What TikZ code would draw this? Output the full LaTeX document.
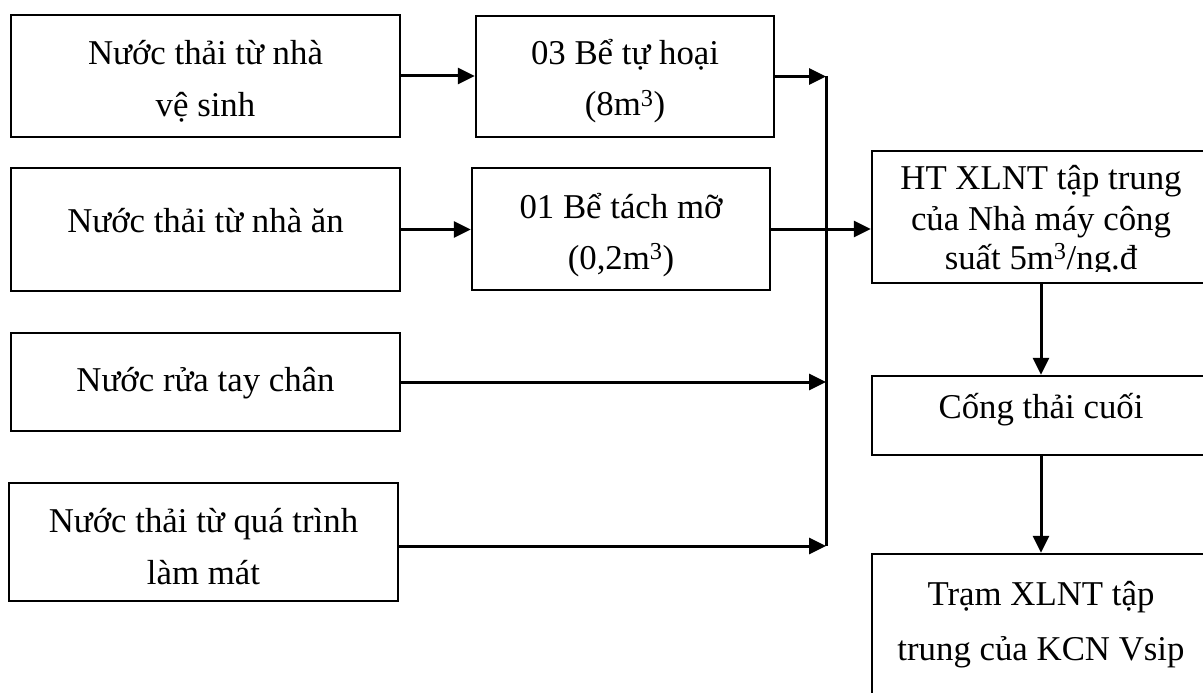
\documentclass[tikz,border=0pt]{standalone}
\usepackage{fontspec}
\setmainfont{Liberation Serif}
\usetikzlibrary{arrows.meta}
\begin{document}
\begin{tikzpicture}[x=1pt,y=-1pt,
  box/.style={draw, rectangle, line width=2.4pt, inner sep=0pt},
  txt/.style={anchor=base, inner sep=0pt, font=\fontsize{34.8}{40}\selectfont},
  flow/.style={line width=3pt, -{Triangle[length=17pt,width=16pt]}},
  bus/.style={line width=3pt}]
\useasboundingbox (0,0) rectangle (1203,693);
\clip (0,0) rectangle (1203,693);

% source boxes
\node[box, minimum width=389pt, minimum height=122pt] (A) at (205.5,76) {};
\node[box, minimum width=389pt, minimum height=123pt] (C) at (205.5,229.5) {};
\node[box, minimum width=389pt, minimum height=98pt]  (E) at (205.5,382) {};
\node[box, minimum width=389pt, minimum height=118pt] (F) at (203.5,542) {};

% pre-treatment tanks
\node[box, minimum width=298pt, minimum height=121pt] (B) at (625,76.5) {};
\node[box, minimum width=298pt, minimum height=122pt] (D) at (621,229) {};

% treatment chain
\node[box, minimum width=338pt, minimum height=132pt] (G) at (1041,217) {};
\node[box, minimum width=338pt, minimum height=79pt]  (H) at (1041,415.5) {};
\node[box, minimum width=338pt, minimum height=186pt] (I) at (1041,647) {};

% labels
\node[txt] (tA1) at (205.5,65)  {Nước thải từ nhà};
\node[txt] (tA2) at (205.5,117) {vệ sinh};
\node[txt] (tC)  at (205.5,232) {Nước thải từ nhà ăn};
\node[txt] (tE)  at (205.5,391) {Nước rửa tay chân};
\node[txt] (tF1) at (203.5,532) {Nước thải từ quá trình};
\node[txt] (tF2) at (203.5,584) {làm mát};
\node[txt] (tB1) at (625,65)  {03 Bể tự hoại};
\node[txt] (tB2) at (625,116) {(8m\textsuperscript{3})};
\node[txt] (tD1) at (621,218) {01 Bể tách mỡ};
\node[txt] (tD2) at (621,269) {(0,2m\textsuperscript{3})};
\node[txt] (tG1) at (1041,189) {HT XLNT tập trung};
\node[txt] (tG2) at (1041,230) {của Nhà máy công};
\begin{scope}
  \clip (860,240) rectangle (1220,271);
  \node[txt] (tG3) at (1041,269) {suất 5m\textsuperscript{3}/ng.đ};
\end{scope}
\node[txt] (tH)  at (1041,418) {Cống thải cuối};
\node[txt] (tI1) at (1041,605) {Trạm XLNT tập};
\node[txt] (tI2) at (1041,660) {trung của KCN Vsip};

% collector line
\coordinate (busTop) at (826,76);
\coordinate (busBot) at (826,546);
\draw[bus] (busTop) -- (busBot);

% connectors
\draw[flow] (A.east) -- (A.east -| B.west);
\draw[flow] (C.east) -- (C.east -| D.west);
\draw[flow] (B.east) -- (B.east -| busTop);
\draw[flow] (E.east) -- (E.east -| busTop);
\draw[flow] ([yshift=-4pt]F.east) -- (busBot);
\draw[flow] (D.east) -- (D.east -| G.west);
\draw[flow] (G.south) -- (H.north);
\draw[flow] (H.south) -- (I.north);
\end{tikzpicture}
\end{document}
